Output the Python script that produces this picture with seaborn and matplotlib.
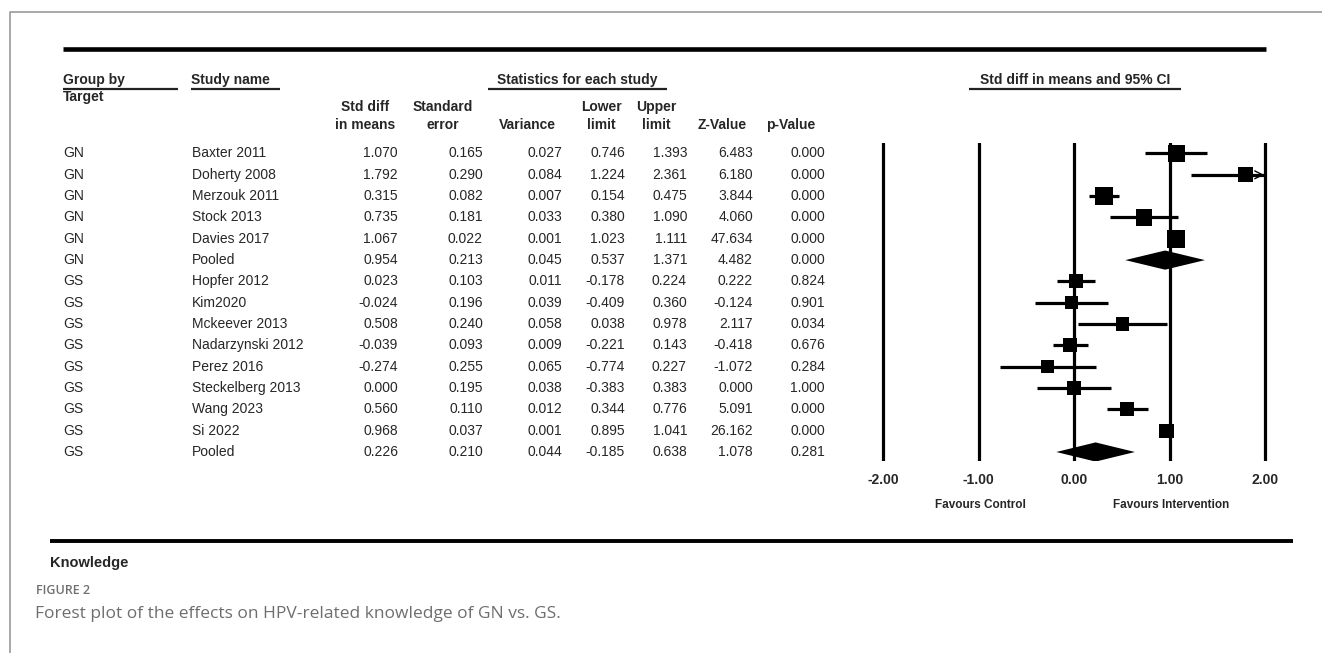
import numpy as np
import pandas as pd
import seaborn as sns
import matplotlib.pyplot as plt
from matplotlib.transforms import blended_transform_factory

# ---- data ----
groups = ['GN'] * 6 + ['GS'] * 9
studies = ['Baxter 2011', 'Doherty 2008', 'Merzouk 2011', 'Stock 2013', 'Davies 2017', 'Pooled',
           'Hopfer 2012', 'Kim2020', 'Mckeever 2013', 'Nadarzynski 2012', 'Perez 2016',
           'Steckelberg 2013', 'Wang 2023', 'Si 2022', 'Pooled']
std_diff = [1.070, 1.792, 0.315, 0.735, 1.067, 0.954,
            0.023, -0.024, 0.508, -0.039, -0.274, 0.000, 0.560, 0.968, 0.226]
std_err = [0.165, 0.290, 0.082, 0.181, 0.022, 0.213,
           0.103, 0.196, 0.240, 0.093, 0.255, 0.195, 0.110, 0.037, 0.210]
variance = [0.027, 0.084, 0.007, 0.033, 0.001, 0.045,
            0.011, 0.039, 0.058, 0.009, 0.065, 0.038, 0.012, 0.001, 0.044]
lower = [0.746, 1.224, 0.154, 0.380, 1.023, 0.537,
         -0.178, -0.409, 0.038, -0.221, -0.774, -0.383, 0.344, 0.895, -0.185]
upper = [1.393, 2.361, 0.475, 1.090, 1.111, 1.371,
         0.224, 0.360, 0.978, 0.143, 0.227, 0.383, 0.776, 1.041, 0.638]
z_value = [6.483, 6.180, 3.844, 4.060, 47.634, 4.482,
           0.222, -0.124, 2.117, -0.418, -1.072, 0.000, 5.091, 26.162, 1.078]
p_value = [0.000, 0.000, 0.000, 0.000, 0.000, 0.000,
           0.824, 0.901, 0.034, 0.676, 0.284, 1.000, 0.000, 0.000, 0.281]
# between-study variance (estimated) used for the random-effects box sizes
tau_sq = {'GN': 0.20, 'GS': 0.32}
axis_ticks = [-2, -1, 0, 1, 2]

df = pd.DataFrame({'group': groups, 'study': studies, 'est': std_diff, 'se': std_err,
                   'var': variance, 'lo': lower, 'hi': upper, 'z': z_value, 'p': p_value})
df['row'] = np.arange(len(df))
df['weight'] = 1.0 / (df['var'] + df['group'].map(tau_sq))
pooled = df[df['study'] == 'Pooled']
single = df[df['study'] != 'Pooled']

sns.set_style('white')
plt.rcParams['font.family'] = ['Liberation Sans', 'DejaVu Sans']

W, H = 1322, 653
fig = plt.figure(figsize=(W / 100, H / 100), dpi=100)

bg = fig.add_axes([0, 0, 1, 1])
bg.set_xlim(0, W)
bg.set_ylim(H, 0)
bg.axis('off')

# forest panel: -2 at x=883, 2 at x=1265, rows between y=143 and y=461
px_unit = (1265 - 883) / 4
x_left = 883 - 0.2 * px_unit
x_right = 1265 + 0.2 * px_unit
row_h = 21.33
fa = fig.add_axes([x_left / W, (H - 461) / H, (x_right - x_left) / W, (461 - 143) / H])
fa.set_xlim(-2.2, 2.2)
fa.set_ylim(14 + (461 - 452) / row_h, -(153.5 - 143) / row_h)
fa.patch.set_alpha(0)
for s in fa.spines.values():
    s.set_visible(False)

for t in axis_ticks:
    fa.axvline(t, color='black', lw=2.3, zorder=1)

clip_hi = single['hi'].clip(upper=2.0)
fa.hlines(single['row'], single['lo'], clip_hi, color='black', lw=2.3, zorder=2)
for _, r in single[single['hi'] > 2.0].iterrows():
    fa.annotate('', xy=(2.02, r['row']), xytext=(1.85, r['row']),
                arrowprops=dict(arrowstyle='->', color='black', lw=1.0, mutation_scale=14))

sns.scatterplot(data=single, x='est', y='row', size='weight', sizes=(88, 165),
                marker='s', color='black', linewidth=0, legend=False, ax=fa, zorder=3)

for _, r in pooled.iterrows():
    hh = 0.45
    fa.fill([r['lo'], r['est'], r['hi'], r['est']],
            [r['row'], r['row'] - hh, r['row'], r['row'] + hh],
            color='black', lw=0, zorder=3)

fa.set_xticks(axis_ticks, labels=[f'{t:.2f}' for t in axis_ticks])
fa.set_yticks([])
fa.set_xlabel('')
fa.set_ylabel('')
fa.tick_params(axis='x', length=0, pad=9, labelsize=10)
for lab in fa.get_xticklabels():
    lab.set_fontweight('bold')

# ---- table text ----
rows_tr = blended_transform_factory(bg.transData, fa.transData)
fs = 10
num_cols = [('est', 398), ('se', 483), ('var', 562), ('lo', 625), ('hi', 687), ('z', 753), ('p', 825)]
for _, r in df.iterrows():
    bg.text(63, r['row'], r['group'], transform=rows_tr, fontsize=fs, va='center', ha='left')
    bg.text(192, r['row'], r['study'], transform=rows_tr, fontsize=fs, va='center', ha='left')
    for col, xr in num_cols:
        bg.text(xr, r['row'], f"{r[col]:.3f}", transform=rows_tr, fontsize=fs,
                va='center', ha='right')

hdr = dict(fontsize=fs, fontweight='bold', va='center')
bg.text(63, 80, 'Group by', ha='left', **hdr)
bg.text(63, 97, 'Target', ha='left', **hdr)
bg.text(191, 80, 'Study name', ha='left', **hdr)
bg.text(577, 80, 'Statistics for each study', ha='center', **hdr)
bg.text(1075, 80, 'Std diff in means and 95% CI', ha='center', **hdr)
for x0, x1 in [(63, 178), (191, 280), (488, 667), (969, 1181)]:
    bg.plot([x0, x1], [88.5, 88.5], color='#222222', lw=1.6, solid_capstyle='butt')

col_heads = [(365, 'Std diff', 'in means'), (443, 'Standard', 'error'), (527, '', 'Variance'),
             (601, 'Lower', 'limit'), (656, 'Upper', 'limit'), (722, '', 'Z-Value'),
             (791, '', 'p-Value')]
for xc, l1, l2 in col_heads:
    if l1:
        bg.text(xc, 107, l1, ha='center', **hdr)
    bg.text(xc, 125, l2, ha='center', **hdr)

bg.text(980, 505, 'Favours Control', ha='center', va='center', fontsize=8.5, fontweight='bold')
bg.text(1171, 505, 'Favours Intervention', ha='center', va='center', fontsize=8.5,
        fontweight='bold')

# rules and frame
bg.plot([63, 1266], [49, 49], color='black', lw=3.3, solid_capstyle='butt')
bg.plot([50, 1293], [541, 541], color='black', lw=2.8, solid_capstyle='butt')
bg.plot([10, 10, W], [H, 12, 12], color='#9a9a9a', lw=1.2)

bg.text(50, 563, 'Knowledge', ha='left', va='center', fontsize=10.5, fontweight='bold')
bg.text(36, 591, 'FIGURE 2', ha='left', va='center', fontsize=9, fontweight='semibold',
        color='#707070', family=['Open Sans', 'DejaVu Sans'])
bg.text(35, 614, 'Forest plot of the effects on HPV-related knowledge of GN vs. GS.',
        ha='left', va='center', fontsize=12.5, color='#6e6e6e',
        family=['Open Sans', 'DejaVu Sans'])

fig.savefig('out.png', dpi=100)
